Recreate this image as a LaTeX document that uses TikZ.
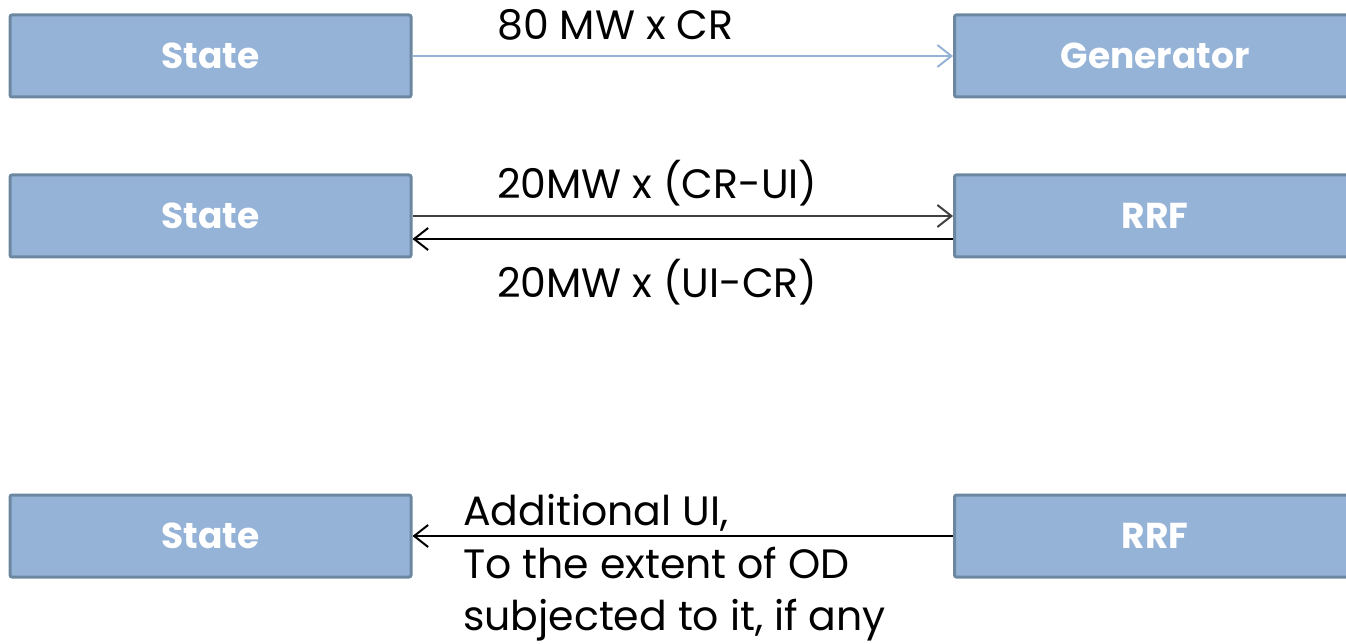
\documentclass[tikz,border=0pt]{standalone}
\usepackage{fontspec}
\setmainfont{Poppins}
\usetikzlibrary{arrows.meta}
\definecolor{boxfill}{HTML}{95B3D7}
\definecolor{boxedge}{HTML}{6C88A0}
\definecolor{darkarrow}{HTML}{404040}
\begin{document}
\begin{tikzpicture}[x=1pt,y=-1pt,
  box/.style={draw=boxedge, fill=boxfill, line width=3pt, rounded corners=2pt,
    minimum width=401pt, minimum height=82pt, inner sep=0pt,
    font=\fontsize{36}{40}\selectfont\bfseries, text=white},
  lbl/.style={font=\fontsize{41}{54}\selectfont, inner sep=0pt, anchor=base west},
  conn/.style={line width=2pt, -{Straight Barb[length=14pt,width=22pt,line width=2pt]}}]
\useasboundingbox (0,0) rectangle (1346,644);
% boxes
\node[box] (s1) at (210.5,56) {State};
\node[box] (g)  at (1155,56) {Generator};
\node[box] (s2) at (210.5,216) {State};
\node[box] (r2) at (1155,216) {RRF};
\node[box] (s3) at (210.5,536) {State};
\node[box] (r3) at (1155,536) {RRF};
% connectors
\draw[conn, boxfill] (s1.east) -- (g.west);
\draw[conn, darkarrow] (s2.east) -- (r2.west);
\coordinate (low2) at (0,239);
\draw[conn, black] (r2.west |- low2) -- (s2.east |- low2);
\draw[conn, black] (r3.west) -- (s3.east);
% labels
\node[lbl] (t1) at (497,40) {80 MW x CR};
\node[lbl] (t2) at (497,199) {20MW x (CR-UI)};
\node[lbl] (t3) at (497,298) {20MW x (UI-CR)};
\node[lbl] (t4) at (463,525) {Additional UI,};
\node[lbl] (t5) at (463,578) {To the extent of OD};
\node[lbl] (t6) at (463,630) {subjected to it, if any};
\end{tikzpicture}
\end{document}
